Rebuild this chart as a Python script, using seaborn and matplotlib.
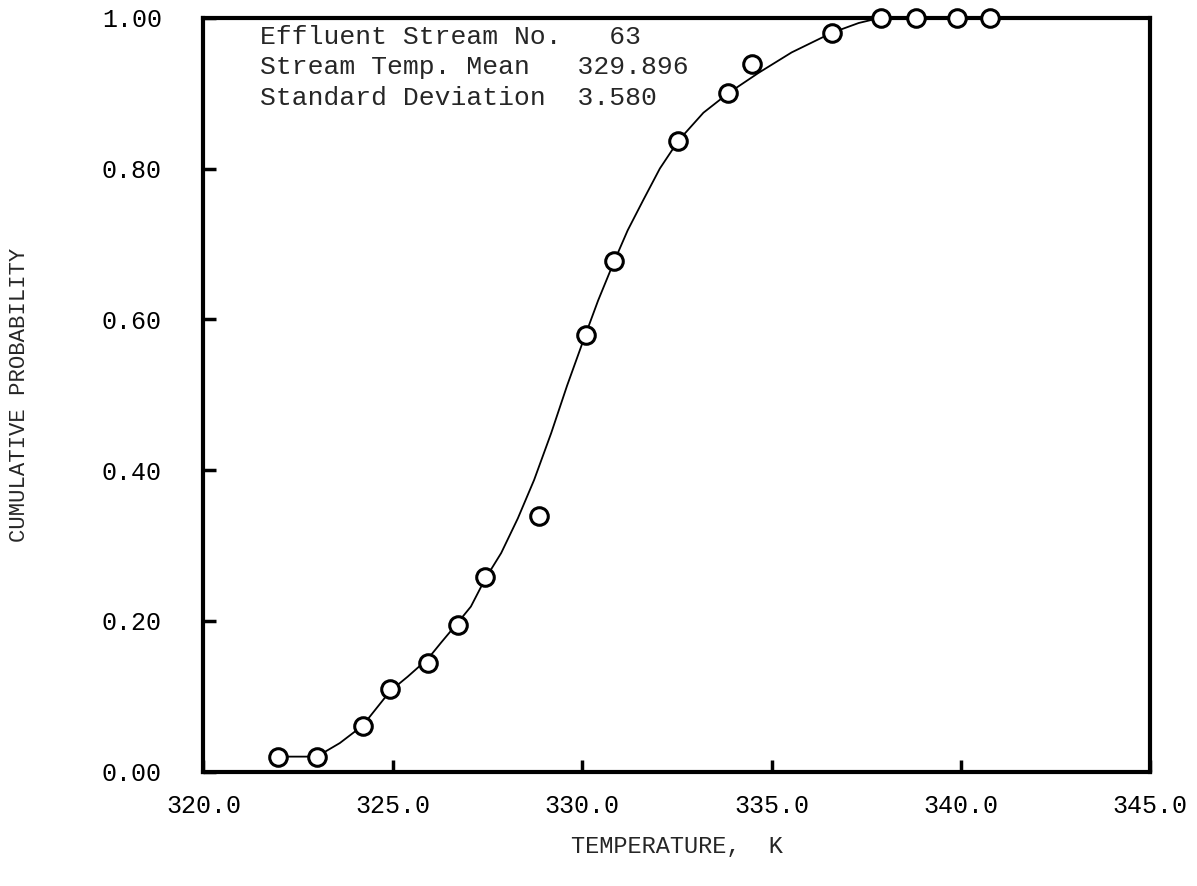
import matplotlib
matplotlib.use("Agg")
import matplotlib.pyplot as plt
import seaborn as sns
import pandas as pd

# Observed points
temp_obs = [321.96, 322.99, 324.20, 324.93, 325.93, 326.72, 327.43, 328.86,
            330.10, 330.85, 332.54, 333.86, 334.47, 336.59, 337.88, 338.80,
            339.90, 340.77]
prob_obs = [0.020, 0.020, 0.061, 0.110, 0.144, 0.195, 0.258, 0.339,
            0.579, 0.678, 0.837, 0.900, 0.939, 0.980, 1.000, 1.000,
            1.000, 1.000]

# Hand-drawn fitted curve
temp_curve = [321.96, 322.99, 323.60, 324.20, 324.93, 325.39, 325.93, 326.27,
              326.72, 327.06, 327.43, 327.86, 328.30, 328.73, 329.18, 329.60,
              330.03, 330.42, 330.82, 331.20, 331.61, 332.05, 332.54, 333.20,
              333.86, 334.66, 335.53, 336.59, 337.30, 337.88, 338.80, 339.90,
              340.77]
prob_curve = [0.020, 0.020, 0.038, 0.061, 0.107, 0.126, 0.150, 0.171,
              0.198, 0.219, 0.255, 0.290, 0.336, 0.387, 0.449, 0.512,
              0.572, 0.625, 0.674, 0.718, 0.758, 0.800, 0.837, 0.874,
              0.900, 0.927, 0.954, 0.980, 0.993, 1.000, 1.000, 1.000,
              1.000]

x_ticks = [320.0, 325.0, 330.0, 335.0, 340.0, 345.0]
y_ticks = [0.0, 0.2, 0.4, 0.6, 0.8, 1.0]
x_tick_labels = ["320.0", "325.0", "330.0", "335.0", "340.0", "345.0"]
y_tick_labels = ["0.00", "0.20", "0.40", "0.60", "0.80", "1.00"]

info_lines = ["Effluent Stream No.   63",
              "Stream Temp. Mean   329.896",
              "Standard Deviation  3.580"]

sns.set_theme(style="ticks")
plt.rcParams['font.family'] = ['Liberation Mono', 'DejaVu Sans Mono']

fig = plt.figure(figsize=(11.97, 8.86), dpi=100)
ax = fig.add_axes([0.170, 0.129, 0.791, 0.851])

df_obs = pd.DataFrame({"T": temp_obs, "P": prob_obs})
df_curve = pd.DataFrame({"T": temp_curve, "P": prob_curve})

sns.lineplot(data=df_curve, x="T", y="P", ax=ax, color="black", linewidth=1.3,
             sort=False, estimator=None, zorder=2)
sns.scatterplot(data=df_obs, x="T", y="P", ax=ax, marker="o", s=160,
                facecolor="white", edgecolor="black", linewidth=2.2, zorder=3,
                clip_on=False)

ax.set_xlim(320, 345)
ax.set_ylim(0, 1.0)
ax.set_xticks(x_ticks)
ax.set_xticklabels(x_tick_labels)
ax.set_yticks(y_ticks)
ax.set_yticklabels(y_tick_labels)

for s in ax.spines.values():
    s.set_linewidth(3.0)
    s.set_color("black")

ax.tick_params(axis="both", direction="in", length=9, width=2.5,
               labelsize=18, colors="black")
ax.tick_params(axis="x", pad=16)
ax.tick_params(axis="y", pad=30)

ax.set_xlabel("TEMPERATURE,  K", fontsize=17, labelpad=12)
ax.set_ylabel("CUMULATIVE PROBABILITY", fontsize=16, labelpad=52)

for i, line in enumerate(info_lines):
    ax.text(321.5, 0.975 - i * 0.041, line, fontsize=19, ha="left", va="center")

fig.savefig("out.png", dpi=100)
